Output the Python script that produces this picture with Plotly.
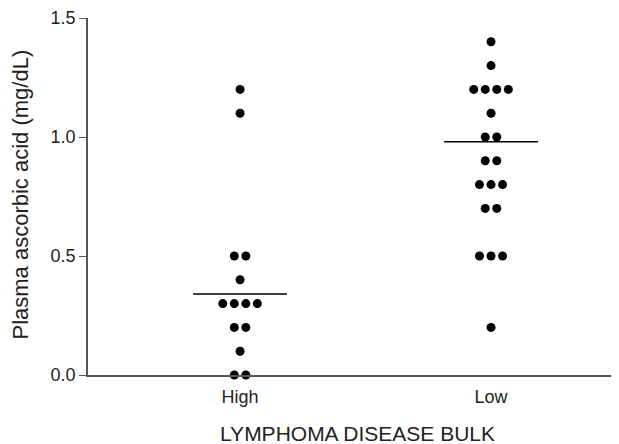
import plotly.graph_objects as go
from collections import Counter

categories = ["High", "Low"]
high_values = [1.2, 1.1, 0.5, 0.5, 0.4, 0.3, 0.3, 0.3, 0.3, 0.2, 0.2, 0.1, 0.0, 0.0]
low_values = [1.4, 1.3, 1.2, 1.2, 1.2, 1.2, 1.1, 1.0, 1.0, 0.9, 0.9,
              0.8, 0.8, 0.8, 0.7, 0.7, 0.5, 0.5, 0.5, 0.2]
group_means = [0.34, 0.98]
y_ticks = [0.0, 0.5, 1.0, 1.5]

STEP = 0.046
HALF = 0.187

fig = go.Figure()

for ci, vals in enumerate([high_values, low_values]):
    center = ci + 1
    counts = Counter(vals)
    xs, ys = [], []
    for v, n in counts.items():
        for k in range(n):
            xs.append(center + (k - (n - 1) / 2) * STEP)
            ys.append(v)
    fig.add_trace(go.Scatter(x=xs, y=ys, mode="markers",
                             marker=dict(color="black", size=9),
                             cliponaxis=False, showlegend=False, hoverinfo="y"))
    fig.add_trace(go.Scatter(x=[center - HALF, center + HALF],
                             y=[group_means[ci]] * 2, mode="lines",
                             line=dict(color="black", width=1.5),
                             showlegend=False, hoverinfo="skip"))

title_font = dict(family="Liberation Sans, Arial, sans-serif", color="#222")

fig.update_layout(
    width=619, height=444,
    margin=dict(l=80, r=9, t=10, b=77),
    paper_bgcolor="white", plot_bgcolor="white",
    font=dict(family="Liberation Sans, Arial, sans-serif", color="#222", size=18),
    xaxis=dict(range=[0.394, 2.506], tickmode="array", tickvals=[1, 2],
               ticktext=categories, showgrid=False, zeroline=False,
               showline=True, linecolor="#555", linewidth=1.5, ticks="outside",
               ticklen=5, tickcolor="rgba(0,0,0,0)", automargin=False,
               tickfont=dict(size=18)),
    yaxis=dict(range=[0, 1.5], tickmode="array", tickvals=y_ticks,
               ticktext=[f"{t:.1f}" for t in y_ticks], showgrid=False, zeroline=False,
               showline=True, linecolor="#555", linewidth=1.5, ticks="outside",
               ticklen=7, tickcolor="#555", automargin=False,
               tickfont=dict(size=18)),
    annotations=[
        dict(text="LYMPHOMA DISEASE BULK", xref="paper", yref="paper",
             x=0.509, y=-0.165, xanchor="center", yanchor="middle",
             showarrow=False, font=dict(size=21, **title_font)),
        dict(text="Plasma ascorbic acid (mg/dL)", xref="paper", yref="paper",
             x=-0.128, y=0.506, xanchor="center", yanchor="middle", textangle=-90,
             showarrow=False, font=dict(size=22, **title_font)),
    ],
)

fig.write_html("out.html")
